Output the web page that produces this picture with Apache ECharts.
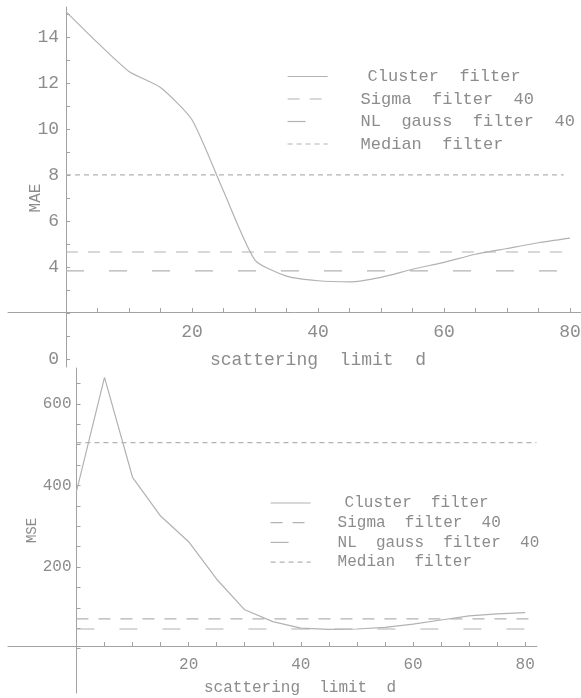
<!DOCTYPE html>
<html>
<head>
<meta charset="utf-8">
<script src="https://cdn.jsdelivr.net/npm/echarts@6/dist/echarts.min.js"></script>
<style>
  html, body { margin: 0; padding: 0; background: #fff; }
  #chart { width: 581px; height: 698px; }
</style>
</head>
<body>
<div id="chart"></div>
<script>
// 散射上限 d
const dValues = [0, 5, 10, 15, 20, 25, 30, 35, 40, 45, 50, 55, 60, 65, 70, 75, 80]

// MAE 图
const maeCluster = [15.1, 13.75, 12.5, 11.8, 10.4, 7.3, 4.3, 3.6, 3.4, 3.35, 3.55, 3.9, 4.2, 4.55, 4.8, 5.05, 5.25]
const maeSigma = 4.65
const maeNLGauss = 3.83
const maeMedian = 8.0
const maeFlatRange = [0, 79]

// MSE 图
const mseCluster = [385, 665, 420, 325, 262, 170, 95, 66, 50, 47, 48, 52, 60, 70, 80, 85, 88]
const mseSigma = 73
const mseNLGauss = 48
const mseMedian = 505
const mseFlatRange = [0, 82]

const seriesNames = ['Cluster  filter', 'Sigma  filter  40', 'NL  gauss  filter  40', 'Median  filter']
const dTickLabels = [20, 40, 60, 80]
const maeTickLabels = [0, 4, 6, 8, 10, 12, 14]
const mseTickLabels = [200, 400, 600]

const dTicks = [5, 10, 15, 20, 25, 30, 35, 40, 45, 50, 55, 60, 65, 70, 75, 80]
const maeTicks = [0, 1, 2, 3, 4, 5, 6, 7, 8, 9, 10, 11, 12, 13, 14, 15]
const mseTicks = [0, 50, 100, 150, 200, 250, 300, 350, 400, 450, 500, 550, 600, 650]

const font = "'Liberation Mono', 'DejaVu Sans Mono', monospace"
const textColor = '#8c8c8c'
const axisColor = '#a2a2a2'
const lineColor = '#b2b2b2'
const dashes = [null, [12, 10], [18, 25], [5, 4]]

// 一组曲线
function makeSeries(xAxisIndex, yAxisIndex, cluster, flat, flatRange) {
  const list = [{
    name: seriesNames[0],
    type: 'line',
    xAxisIndex,
    yAxisIndex,
    symbol: 'none',
    smooth: xAxisIndex === 0 ? 0.2 : false,
    itemStyle: { color: lineColor },
    lineStyle: { color: lineColor, width: 1.2 },
    data: dValues.map((d, i) => [d, cluster[i]])
  }]
  flat.forEach((v, i) => {
    list.push({
      name: seriesNames[i + 1],
      type: 'line',
      xAxisIndex,
      yAxisIndex,
      symbol: 'none',
      itemStyle: { color: lineColor },
      lineStyle: { color: lineColor, width: 1.2, type: dashes[i + 1] },
      data: flatRange.map((d) => [d, v])
    })
  })
  return list
}

function makeLegend(top, left, fontSize, gap, pad) {
  return {
    orient: 'vertical',
    top,
    left,
    padding: 0,
    itemWidth: 40,
    itemHeight: 14,
    itemGap: gap,
    selectedMode: false,
    itemStyle: { opacity: 0 },
    lineStyle: { width: 1.2 },
    textStyle: { fontFamily: font, fontSize, lineHeight: fontSize, color: textColor },
    data: seriesNames.map((name, i) => ({
      name,
      textStyle: { padding: [0, 0, 0, i === 0 ? pad + 7 : pad] }
    }))
  }
}

const option = {
  animation: false,
  backgroundColor: '#fff',
  legend: [makeLegend(68, 287, 17, 5.5, 28), makeLegend(495, 270, 16, 3.7, 22)],
  grid: [
    { left: 8, right: 0, top: 7, height: 360, outerBoundsMode: 'none' },
    { left: 8, right: 44, top: 368, height: 325, outerBoundsMode: 'none' }
  ],
  xAxis: [
    {
      gridIndex: 0,
      type: 'value',
      min: -9.2,
      max: 81.75,
      offset: -55,
      axisLine: { onZero: false, lineStyle: { color: axisColor } },
      axisTick: { inside: true, length: 4, customValues: dTicks, lineStyle: { color: axisColor } },
      axisLabel: { customValues: dTickLabels, margin: 11, fontFamily: font, fontSize: 18, color: textColor },
      splitLine: { show: false },
      name: 'scattering  limit  d',
      nameLocation: 'middle',
      nameMoveOverlap: false,
      nameGap: 39,
      nameTextStyle: { fontFamily: font, fontSize: 18, color: textColor, padding: [0, 0, 0, 47] }
    },
    {
      gridIndex: 1,
      type: 'value',
      min: -12.2,
      max: 82.1,
      offset: -47,
      axisLine: { onZero: false, lineStyle: { color: axisColor } },
      axisTick: { inside: true, length: 4, customValues: dTicks, lineStyle: { color: axisColor } },
      axisLabel: { customValues: dTickLabels, margin: 11, fontFamily: font, fontSize: 16, color: textColor },
      splitLine: { show: false },
      name: 'scattering  limit  d',
      nameLocation: 'middle',
      nameMoveOverlap: false,
      nameGap: 34,
      nameTextStyle: { fontFamily: font, fontSize: 16, color: textColor, padding: [0, 0, 0, 55] }
    }
  ],
  yAxis: [
    {
      gridIndex: 0,
      type: 'value',
      min: -0.35,
      max: 15.3,
      offset: -58,
      axisLine: { onZero: false, lineStyle: { color: axisColor } },
      axisTick: { inside: true, length: 4, customValues: maeTicks, lineStyle: { color: axisColor } },
      axisLabel: { customValues: maeTickLabels, margin: 7, fontFamily: font, fontSize: 18, color: textColor },
      splitLine: { show: false },
      name: 'MAE',
      nameLocation: 'middle',
      nameRotate: 90,
      nameMoveOverlap: false,
      nameGap: 22,
      nameTextStyle: { fontFamily: font, fontSize: 16, color: textColor, padding: [0, 22, 0, 0] }
    },
    {
      gridIndex: 1,
      type: 'value',
      min: -109,
      max: 688,
      offset: -68.5,
      axisLine: { onZero: false, lineStyle: { color: axisColor } },
      axisTick: { inside: true, length: 4, customValues: mseTicks, lineStyle: { color: axisColor } },
      axisLabel: { customValues: mseTickLabels, margin: 5, fontFamily: font, fontSize: 16, color: textColor },
      splitLine: { show: false },
      name: 'MSE',
      nameLocation: 'middle',
      nameRotate: 90,
      nameMoveOverlap: false,
      nameGap: 37,
      nameTextStyle: { fontFamily: font, fontSize: 14, color: textColor }
    }
  ],
  series: [
    ...makeSeries(0, 0, maeCluster, [maeSigma, maeNLGauss, maeMedian], maeFlatRange),
    ...makeSeries(1, 1, mseCluster, [mseSigma, mseNLGauss, mseMedian], mseFlatRange)
  ]
}

const myChart = echarts.init(document.getElementById('chart'))
myChart.setOption(option)
</script>
</body>
</html>
